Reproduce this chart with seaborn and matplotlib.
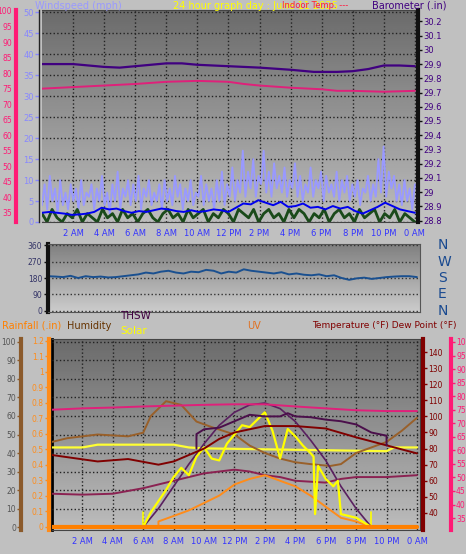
import numpy as np
import pandas as pd
import matplotlib
matplotlib.use("Agg")
import matplotlib.pyplot as plt
import seaborn as sns

sns.set_style("white")
plt.rcParams["font.family"] = ["DejaVu Sans"]

# ---------------- data ----------------
hour_labels = ["2 AM", "4 AM", "6 AM", "8 AM", "10 AM", "12 PM", "2 PM", "4 PM",
               "6 PM", "8 PM", "10 PM", "0 AM"]

# top panel
baro_h = [0, 2, 4, 5, 6, 8, 9, 10, 12, 14, 16, 17.5, 19, 20, 21, 22, 23, 24]
baro = [29.90, 29.90, 29.88, 29.875, 29.885, 29.905, 29.905, 29.895, 29.885, 29.875,
        29.86, 29.845, 29.845, 29.85, 29.865, 29.89, 29.89, 29.885]
indoor_h = [0, 2, 4, 6, 8, 10, 12, 13, 14, 16, 18, 19, 20, 22, 24]
indoor = [75.0, 75.5, 76.0, 76.5, 77.2, 77.5, 77.2, 76.5, 76.0, 75.3, 74.8, 74.3, 74.3, 74.0, 74.3]
gust = [4, 9, 3, 11, 5, 8, 2, 10, 4, 7, 3, 9, 5, 8, 3, 10, 4, 7, 6, 9, 3, 8, 5, 11,
        4, 7, 2, 9, 5, 12, 3, 8, 6, 10, 4, 9, 5, 11, 3, 8, 6, 10, 4, 7, 5, 9, 3, 10,
        5, 8, 4, 11, 6, 9, 3, 8, 5, 10, 4, 7, 6, 11, 4, 9, 5, 8, 3, 10, 5, 12, 4, 9,
        6, 13, 5, 10, 7, 17, 6, 12, 8, 15, 6, 11, 9, 17, 7, 12, 6, 14, 8, 11, 7, 13,
        6, 10, 8, 14, 6, 11, 5, 9, 7, 13, 6, 10, 8, 12, 5, 11, 7, 9, 6, 12, 5, 10, 7,
        11, 5, 9, 6, 10, 4, 8, 7, 11, 5, 9, 6, 15, 7, 18, 6, 12, 8, 11, 5, 9, 4, 10, 5, 8, 3, 9]
wind_avg = [2.2, 2.4, 2.2, 2.0, 1.7, 1.8, 2.0, 2.4, 3.4, 3.0, 3.2, 2.6, 2.2, 2.6, 2.4,
            2.8, 3.2, 3.0, 2.6, 2.4, 2.8, 2.4, 2.6, 3.0, 2.8, 2.4, 3.4, 4.4, 4.2, 5.2,
            4.6, 4.0, 4.8, 3.6, 3.8, 4.4, 3.4, 3.6, 3.0, 3.8, 3.2, 3.6, 2.6, 2.0, 2.8,
            3.6, 4.6, 3.8, 3.0, 2.6, 2.2]
wind_low = [2, 0, 3, 1, 0, 2, 1, 3, 0, 2, 1, 0, 3, 1, 2, 0, 3, 1, 2, 0, 2, 3, 1, 0, 2,
            3, 1, 2, 0, 3, 1, 2, 3, 0, 2, 1, 3, 2, 0, 3, 2, 1, 3, 0, 2, 3, 1, 2, 0, 3,
            1, 3, 2, 0, 2, 1, 3, 0, 2, 3, 1, 2, 0, 3, 1, 2, 3, 0, 2, 1, 3, 0, 2, 1, 0]

# middle panel
wind_dir = [190, 188, 185, 192, 180, 190, 185, 188, 183, 185, 190, 195, 200, 210, 205,
            215, 220, 210, 205, 215, 212, 225, 220, 205, 215, 210, 228, 220, 215, 210,
            205, 212, 200, 205, 198, 195, 200, 190, 195, 180, 170, 178, 182, 175, 180,
            185, 188, 190, 190, 185]

# bottom panel
hum_h = [0, 1, 3, 5, 6, 6.5, 7.5, 8.5, 9.5, 10.5, 12, 13, 14, 15, 16, 17, 18.3, 19, 20, 21, 22, 23, 24]
humidity = [46, 48, 50, 49, 51, 60, 68, 66, 57, 54, 50, 44, 40, 37, 35, 34, 33, 34, 40, 43, 46, 52, 59]
temp_h = [0, 1.5, 3, 5, 7, 8, 9, 10, 11, 12, 13, 14, 16, 18, 20, 22, 24]
temp = [76, 74, 72, 73.5, 70, 72, 76, 80, 86, 90, 92, 94, 94, 92.5, 87, 82, 77]
thsw_h = [9.5, 9.5, 10, 11, 12, 13, 14, 15, 15.5, 16, 17, 18, 19, 20, 21, 22, 22]
thsw = [80, 89, 92, 93, 97, 101, 100, 100, 102, 100, 99.5, 98, 97, 95, 90, 88, 82]
dew_h = [0, 2, 4, 6, 8, 10, 12, 14, 16, 18, 20, 22, 24]
dewpt = [75, 75.5, 75.8, 76.2, 76.5, 76.8, 77, 77, 76.2, 75.5, 74.8, 74.5, 74.5]
inhum_h = [0, 2, 4, 6, 8, 10, 12, 13, 14, 15, 16, 18, 19, 20, 22, 24]
in_hum = [18, 17.5, 18, 21, 25, 29, 31, 30, 28, 27, 25, 24, 26, 27, 27, 28]
solmax_h = [6, 7, 8, 9, 10, 11, 12, 13, 14, 15, 16, 17, 18, 19, 20, 21]
solar_max = [0, 10, 22, 34, 45, 55, 62, 66, 67, 64, 57, 47, 36, 22, 10, 0]
solar_h = [0, 6, 6.5, 7.5, 8, 8.5, 9, 9.5, 10, 10.5, 11, 11.5, 12, 12.5, 13, 13.5, 14,
           14.5, 15, 15.5, 16, 16.5, 17, 17.2, 17.3, 17.5, 18, 18.5, 18.8, 19, 20, 21, 24]
solar = [0, 0, 8, 20, 27, 32, 28, 38, 43, 37, 36, 45, 50, 55, 54, 58, 62, 52, 37, 53,
         49, 44, 40, 38, 7, 33, 26, 22, 25, 7, 5, 0, 0]
flat_h = [0, 2, 3, 8, 9, 10, 14, 22, 22.5, 24]
flat_y = [43, 43, 44.5, 44.5, 43, 42.5, 42, 41, 43, 43]
uv_h = [0, 7, 7, 8, 9, 10, 11, 12, 13, 14, 15, 16, 17, 18, 19, 20, 21, 24]
uv = [0, 0, 3, 6, 9, 13, 17, 23, 26, 28, 25, 22, 17, 11, 5, 3, 0, 0]
rain_h = [0, 24]
rain = [0, 0]

W, H = 466, 554
fig = plt.figure(figsize=(W / 100, H / 100), dpi=100, facecolor="#c0c0c0")


def box(l, t, r, b):
    return [l / W, 1 - b / H, (r - l) / W, (b - t) / H]


def gradient(ax, top, bottom):
    g = np.linspace(top, bottom, 100).reshape(-1, 1)
    ax.imshow(g, aspect="auto", cmap="gray", vmin=0, vmax=1, extent=(0, 1, 0, 1),
              transform=ax.transAxes, zorder=0, origin="upper")


def style_side(a, side, color, offset, lim, ticks, fs=6, tl=3):
    a.set_ylim(*lim)
    a.set_yticks(ticks)
    a.set_yticklabels(["{:g}".format(t) for t in ticks], color=color, fontsize=fs)
    if side == "left":
        a.yaxis.tick_left()
    else:
        a.yaxis.tick_right()
    for s in a.spines.values():
        s.set_visible(False)
    a.spines[side].set_visible(True)
    a.spines[side].set_color(color)
    a.spines[side].set_linewidth(3)
    a.spines[side].set_position(("outward", offset))
    a.tick_params(axis="y", colors=color, length=tl, width=1, pad=1, labelsize=fs)
    a.set_ylabel("")


def x_setup(ax):
    ax.set_xlim(0, 24.2)
    ax.set_xticks(range(2, 25, 2))
    ax.set_xticklabels(hour_labels, color="#3333ff", fontsize=6)
    ax.grid(True, axis="x", color="#222222", linestyle=":", linewidth=1)
    ax.tick_params(axis="x", length=3, pad=2)
    ax.set_xlabel("")


def line(ax, x, y, color, lw=1.2, **kw):
    sns.lineplot(x=np.asarray(x, float), y=np.asarray(y, float), ax=ax, color=color,
                 linewidth=lw, legend=False, estimator=None, sort=False, **kw)


# ---------------- top panel ----------------
ax = fig.add_axes(box(42, 10, 418, 222))
gradient(ax, 0.42, 0.74)
ax.grid(True, axis="y", color="#222222", linestyle=":", linewidth=1)
x_setup(ax)
style_side(ax, "left", "#8888ff", 2, (0, 50.5), range(0, 51, 5))
for s in ("top", "bottom", "right"):
    ax.spines[s].set_visible(True)
    ax.spines[s].set_color("#444444")
ax.spines["left"].set_color("#222222")
ax.spines["left"].set_linewidth(1)
line(ax, np.linspace(0, 24, len(gust)), gust, "#9999ff", 1.3)
line(ax, np.linspace(0, 24, len(wind_low)), wind_low, "#1a4a1a", 2.0)
line(ax, np.linspace(0, 24, len(wind_avg)), wind_avg, "#0000ee", 1.4)

ax_in = ax.twinx()
style_side(ax_in, "left", "#ff1a75", 19, (32.1, 100.3), range(35, 101, 5), fs=5.5, tl=1.5)
line(ax_in, indoor_h, indoor, "#e0207a", 1.4)

ax_b = ax.twinx()
style_side(ax_b, "right", "#400080", 0, (28.79, 30.28), np.round(np.arange(28.8, 30.25, 0.1), 1))
ax_b.spines["right"].set_color("#111111")
ax_b.tick_params(axis="y", colors="#111111", labelcolor="#400080")
line(ax_b, baro_h, baro, "#400080", 1.6)

fig.text(35 / W, 1 - 6 / H, "Windspeed (mph)", color="#9999ff", fontsize=7, va="center")
fig.text(173 / W, 1 - 6 / H, "24 hour graph day : June 11 2025", color="#ffff00", fontsize=7, va="center")
fig.text(282 / W, 1 - 6 / H, "Indoor Temp. ---", color="#ff1a40", fontsize=6, va="center")
fig.text(372 / W, 1 - 6 / H, "Barometer (.in)", color="#400080", fontsize=7, va="center")

# ---------------- middle panel ----------------
axm = fig.add_axes(box(48, 244, 420, 312))
gradient(axm, 0.5, 0.8)
axm.set_xlim(0, 24.2)
axm.set_xticks([])
style_side(axm, "left", "#111111", 0, (-8, 368), [0, 90, 180, 270, 360], fs=5.5)
axm.tick_params(axis="y", labelcolor="#333366")
axm.grid(True, axis="y", color="#333333", linestyle=":", linewidth=1)
for s in ("top", "bottom", "right"):
    axm.spines[s].set_visible(True)
    axm.spines[s].set_color("#555555")
line(axm, np.linspace(0, 24, len(wind_dir)), wind_dir, "#1a5090", 1.4)
for i, d in enumerate(["N", "W", "S", "E", "N"]):
    fig.text(438 / W, 1 - (245 + i * 16.5) / H, d, color="#1a4a90", fontsize=10, va="center")

# ---------------- bottom panel ----------------
axb = fig.add_axes(box(52, 339, 420, 530))
gradient(axb, 0.42, 0.74)
x_setup(axb)
axb.set_yticks([])
for s in axb.spines.values():
    s.set_color("#444444")
axb.spines["left"].set_color("#000000")
axb.spines["left"].set_linewidth(2)

ax_h = axb.twinx()
style_side(ax_h, "left", "#8b5a2b", 22, (-1.6, 101.6), range(0, 101, 10), fs=5.5)
ax_h.tick_params(axis="y", labelcolor="#555555")
ax_h.grid(True, axis="y", color="#222222", linestyle=":", linewidth=1)

ax_r = axb.twinx()
style_side(ax_r, "left", "#ff8c1a", 2, (-0.02, 1.21), np.round(np.arange(0, 1.21, 0.1), 1), fs=5.5)

ax_t = axb.twinx()
style_side(ax_t, "right", "#800000", 2, (29.4, 148.1), range(40, 141, 10), fs=5.5)
ax_t.tick_params(axis="y", labelcolor="#800000")

ax_d = axb.twinx()
style_side(ax_d, "right", "#ff1a75", 22, (30.6, 101.1), range(35, 101, 5), fs=5.5)

line(ax_h, [6, 6], [0, 8], "#ffff00", 1.2)
line(ax_h, [21, 21], [0, 8], "#ffff00", 1.2)
line(ax_h, flat_h, flat_y, "#ffff33", 1.6)
line(ax_h, hum_h, humidity, "#99602a", 1.4)
line(ax_h, inhum_h, in_hum, "#8b2252", 1.4)
line(ax_h, uv_h, uv, "#ff8c1a", 1.4)
line(ax_h, solmax_h, solar_max, "#5a2060", 1.2)
line(ax_h, solar_h, solar, "#ffff00", 1.6)
line(ax_r, rain_h, rain, "#ff8000", 3)
line(ax_t, temp_h, temp, "#800000", 1.4)
line(ax_t, thsw_h, thsw, "#4b0f4b", 1.4)
line(ax_d, dew_h, dewpt, "#e0207a", 1.4)

fig.text(2 / W, 1 - 326 / H, "Rainfall (.in)", color="#ff8000", fontsize=7, va="center")
fig.text(67 / W, 1 - 326 / H, "Humidity", color="#663300", fontsize=7, va="center")
fig.text(120 / W, 1 - 316 / H, "THSW", color="#400040", fontsize=7.5, va="center")
fig.text(120 / W, 1 - 331 / H, "Solar", color="#ffff00", fontsize=7.5, va="center")
fig.text(247 / W, 1 - 326 / H, "UV", color="#e07020", fontsize=7, va="center")
fig.text(312 / W, 1 - 326 / H, "Temperature (°F) Dew Point (°F)", color="#800000", fontsize=6.5, va="center")

fig.savefig("out.png", dpi=100, facecolor=fig.get_facecolor())
